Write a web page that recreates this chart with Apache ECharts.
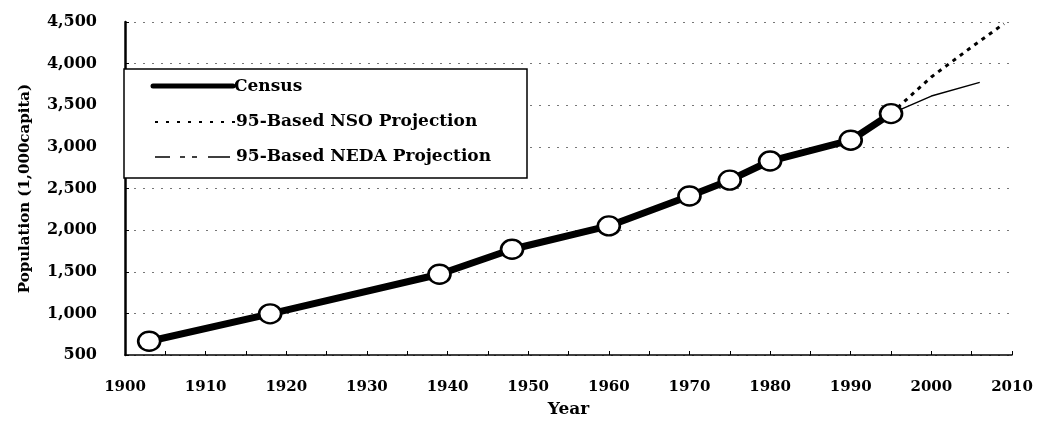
<!DOCTYPE html>
<html>
	<head>
		<meta charset="utf-8">
		<title></title>
		<script src="https://cdn.jsdelivr.net/npm/echarts@6/dist/echarts.min.js"></script>
		<style>
			body{margin:0;background:#fff;}
		</style>
	</head>
	<body>
		<div id="my" style="width:1037px;height:423px;"></div>

		<script>
			// census
			var censusYears = [1903, 1918, 1939, 1948, 1960, 1970, 1975, 1980, 1990, 1995];
			var censusPop = [665, 995, 1470, 1770, 2050, 2410, 2600, 2830, 3080, 3400];
			// 95-based projections
			var nsoYears = [1995, 2000, 2005, 2009];
			var nsoPop = [3400, 3840, 4200, 4480];
			var nedaYears = [1995, 2000, 2006];
			var nedaPop = [3400, 3610, 3775];
			// axis ticks
			var yTicks = [500, 1000, 1500, 2000, 2500, 3000, 3500, 4000, 4500];
			var xTicks = [1900, 1910, 1920, 1930, 1940, 1950, 1960, 1970, 1980, 1990, 2000, 2010];

			function pairs(xs, ys){
				var out = [];
				for (var i = 0; i < xs.length; i++) out.push([xs[i], ys[i]]);
				return out;
			}

			var font = 'DejaVu Serif';
			var legendFont = 'bold 17px "DejaVu Serif"';
			var myChart = echarts.init(document.getElementById('my'));

			var option = {
				animation: false,
				grid: {left: 125, right: 25, top: 22, bottom: 64},
				xAxis: {
					type: 'value',
					min: xTicks[0],
					max: xTicks[xTicks.length - 1],
					interval: 10,
					name: 'Year',
					nameLocation: 'middle',
					nameGap: 46,
					nameTextStyle: {fontFamily: font, fontWeight: 'bold', fontSize: 17, color: '#000'},
					axisLine: {lineStyle: {color: '#000', width: 1.5}},
					axisTick: {inside: true, length: 4, lineStyle: {color: '#000'}},
					minorTick: {show: true, splitNumber: 2, length: 4, lineStyle: {color: '#000'}},
					axisLabel: {
						fontFamily: font, fontWeight: 'bold', fontSize: 15, color: '#000', margin: 25,
						formatter: function(v){ return String(v); }
					},
					splitLine: {show: false}
				},
				yAxis: {
					type: 'value',
					min: yTicks[0],
					max: yTicks[yTicks.length - 1],
					interval: 500,
					name: 'Population (1,000capita)',
					nameLocation: 'middle',
					nameRotate: 90,
					nameGap: 92,
					nameTextStyle: {fontFamily: font, fontWeight: 'bold', fontSize: 15, color: '#000'},
					axisLine: {show: true, lineStyle: {color: '#000', width: 2.5}},
					axisTick: {show: true, inside: true, length: 4, lineStyle: {color: '#000'}},
					axisLabel: {
						fontFamily: font, fontWeight: 'bold', fontSize: 16, color: '#000', margin: 28,
						formatter: function(v){ return v.toLocaleString('en-US'); }
					},
					splitLine: {lineStyle: {color: '#777', width: 1, type: [2, 7]}}
				},
				series: [
					{
						name: '95-Based NSO Projection',
						type: 'line',
						data: pairs(nsoYears, nsoPop),
						showSymbol: false,
						lineStyle: {color: '#000', width: 3, type: [4, 5]},
						z: 2
					},
					{
						name: '95-Based NEDA Projection',
						type: 'line',
						data: pairs(nedaYears, nedaPop),
						showSymbol: false,
						lineStyle: {color: '#000', width: 1.5},
						z: 2
					},
					{
						name: 'Census',
						type: 'line',
						data: pairs(censusYears, censusPop),
						symbol: 'circle',
						symbolSize: [22, 19],
						lineStyle: {color: '#000', width: 7},
						itemStyle: {color: '#fff', borderColor: '#000', borderWidth: 2.5},
						z: 3
					}
				],
				graphic: [
					{type: 'rect', shape: {x: 124, y: 69, width: 403, height: 109}, style: {fill: '#fff', stroke: '#000', lineWidth: 1.5}, z: 10},
					{type: 'line', shape: {x1: 153, y1: 86, x2: 233, y2: 86}, style: {stroke: '#000', lineWidth: 5, lineCap: 'round'}, z: 11},
					{type: 'line', shape: {x1: 155, y1: 122, x2: 236, y2: 122}, style: {stroke: '#000', lineWidth: 2, lineDash: [3, 8]}, z: 11},
					{type: 'line', shape: {x1: 155, y1: 157, x2: 230, y2: 157}, style: {stroke: '#000', lineWidth: 1.5, lineDash: [15, 10, 5, 7, 5, 11, 22, 200]}, z: 11},
					{type: 'text', x: 234, y: 87, style: {text: 'Census', font: legendFont, fill: '#000', verticalAlign: 'middle'}, z: 11},
					{type: 'text', x: 236, y: 122, style: {text: '95-Based NSO Projection', font: legendFont, fill: '#000', verticalAlign: 'middle'}, z: 11},
					{type: 'text', x: 236, y: 157, style: {text: '95-Based NEDA Projection', font: legendFont, fill: '#000', verticalAlign: 'middle'}, z: 11}
				]
			};

			myChart.setOption(option);
		</script>
	</body>
</html>
